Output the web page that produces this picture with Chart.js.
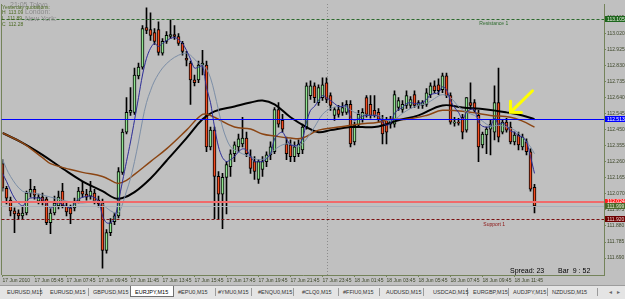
<!DOCTYPE html>
<html>
<head>
<meta charset="utf-8">
<script src="https://cdn.jsdelivr.net/npm/chart.js@4.4.1/dist/chart.umd.min.js"></script>
<style>
html, body { margin: 0; padding: 0; width: 625px; height: 299px; overflow: hidden; background: #c0c0c0; }
#wrap { position: absolute; left: 0; top: 0; width: 625px; height: 285px; }
#tabs { position: absolute; left: 0; top: 285px; width: 625px; height: 14px; background: #e4e4e4;
  border-top: 1px solid #9c9c9c; box-sizing: border-box;
  font-family: 'Liberation Sans Narrow', 'Liberation Sans', Arial, sans-serif; font-size: 5.5px; color: #333; }
#tabs span { position: absolute; top: 3px; white-space: nowrap; }
#tabs .sep { width: 1px; height: 8px; top: 2px; background: #9a9a9a; }
#tabs .sel { top: 0px; height: 11px; background: #fff; border: 1px solid #707070; border-top: none; box-sizing: border-box; }
</style>
</head>
<body>
<div id="wrap"><canvas id="c" width="625" height="285"></canvas></div>
<div id="tabs"></div>
<script>
// EURJPY M15, bars 17 Jun 2010 .. 18 Jun
var opens = [112.249,112.103,112.033,111.969,111.957,111.940,111.957,112.074,112.097,112.027,
  112.051,112.039,111.899,111.957,111.998,112.086,111.998,111.987,111.987,112.027,
  112.086,112.068,112.057,112.074,112.033,112.016,111.736,111.841,111.905,111.940,
  112.197,112.435,112.552,112.552,112.768,112.820,113.053,113.041,113.024,113.041,
  112.902,112.972,113.001,113.012,113.001,112.960,112.872,112.843,112.744,112.744,
  112.832,112.832,112.348,112.447,112.173,112.068,112.167,112.231,112.307,112.348,
  112.365,112.400,112.290,112.261,112.156,112.214,112.261,112.301,112.319,112.569,
  112.505,112.365,112.360,112.290,112.307,112.330,112.465,112.651,112.709,112.610,
  112.639,112.727,112.651,112.534,112.569,112.552,112.552,112.599,112.377,112.476,
  112.511,112.639,112.599,112.564,112.552,112.505,112.505,112.482,112.482,112.581,
  112.569,112.593,112.593,112.657,112.593,112.593,112.599,112.657,112.709,112.715,
  112.686,112.768,112.651,112.488,112.494,112.523,112.447,112.610,112.610,112.534,
  112.360,112.418,112.453,112.435,112.610,112.435,112.494,112.465,112.377,112.418,
  112.348,112.377,112.319,112.109];
var highs = [112.272,112.115,112.051,111.987,111.975,111.998,112.086,112.156,112.115,112.068,
  112.074,112.051,111.981,112.057,112.086,112.132,112.016,112.004,112.045,112.109,
  112.144,112.097,112.144,112.097,112.057,112.039,111.858,111.923,111.957,112.226,
  112.453,112.639,112.698,112.814,112.843,113.065,113.170,113.141,113.047,113.088,
  112.989,113.030,113.100,113.065,113.018,112.972,112.913,112.855,112.773,112.855,
  112.919,112.855,112.465,112.465,112.202,112.191,112.261,112.330,112.377,112.424,
  112.523,112.435,112.330,112.290,112.272,112.290,112.319,112.377,112.581,112.610,
  112.540,112.406,112.389,112.377,112.389,112.482,112.727,112.738,112.727,112.715,
  112.756,112.756,112.668,112.581,112.593,112.610,112.622,112.622,112.494,112.564,
  112.575,112.651,112.651,112.651,112.575,112.534,112.523,112.529,112.680,112.639,
  112.622,112.680,112.645,112.680,112.622,112.622,112.692,112.727,112.738,112.750,
  112.785,112.785,112.668,112.523,112.517,112.540,112.639,112.727,112.628,112.564,
  112.435,112.465,112.505,112.709,112.814,112.505,112.517,112.494,112.435,112.435,
  112.424,112.395,112.336,112.127];
var lows = [112.086,112.010,111.940,111.841,111.923,111.917,111.946,112.051,112.039,112.010,
  112.004,111.888,111.835,111.946,111.981,111.987,111.940,111.893,111.969,112.016,
  112.051,112.033,112.039,112.010,111.992,111.631,111.719,111.823,111.888,111.928,
  112.185,112.424,112.534,112.540,112.750,112.808,113.018,112.977,112.954,112.890,
  112.890,112.960,112.989,112.983,112.948,112.890,112.826,112.599,112.709,112.727,
  112.773,112.319,112.330,111.923,111.923,111.864,111.952,112.173,112.261,112.319,
  112.348,112.290,112.191,112.156,112.132,112.173,112.231,112.272,112.307,112.465,
  112.435,112.272,112.261,112.261,112.290,112.307,112.453,112.628,112.610,112.593,
  112.622,112.610,112.564,112.505,112.523,112.534,112.540,112.348,112.360,112.465,
  112.494,112.523,112.517,112.523,112.494,112.365,112.365,112.459,112.465,112.564,
  112.552,112.575,112.575,112.581,112.575,112.575,112.587,112.639,112.668,112.657,
  112.668,112.639,112.482,112.470,112.476,112.395,112.435,112.569,112.552,112.261,
  112.342,112.307,112.301,112.389,112.377,112.424,112.435,112.365,112.360,112.330,
  112.330,112.301,112.086,111.957];
var closes = [112.103,112.045,111.969,111.952,111.940,111.957,112.074,112.097,112.062,112.051,
  112.027,111.899,111.957,112.016,112.051,111.998,111.963,111.952,112.027,112.086,
  112.068,112.051,112.086,112.027,112.010,111.736,111.841,111.899,111.940,112.202,
  112.435,112.552,112.564,112.773,112.820,113.047,113.036,113.007,112.972,112.907,
  112.972,113.007,113.012,113.001,112.960,112.913,112.861,112.744,112.727,112.832,
  112.843,112.348,112.447,112.173,112.068,112.167,112.243,112.307,112.360,112.395,
  112.400,112.307,112.220,112.202,112.261,112.261,112.301,112.348,112.569,112.482,
  112.453,112.307,112.290,112.348,112.365,112.465,112.709,112.709,112.639,112.698,
  112.715,112.628,112.593,112.569,112.540,112.581,112.599,112.365,112.476,112.540,
  112.552,112.540,112.534,112.534,112.511,112.424,112.435,112.511,112.657,112.622,
  112.599,112.651,112.628,112.593,112.610,112.610,112.668,112.709,112.680,112.680,
  112.768,112.651,112.494,112.494,112.488,112.435,112.639,112.593,112.564,112.348,
  112.424,112.453,112.482,112.610,112.406,112.494,112.447,112.377,112.418,112.360,
  112.406,112.319,112.097,111.998];

// moving averages: [bar, price]
var maFast = [[0,112.191],[1,112.144],[3,112.045],[5,111.998],[6,112.027],[7,112.045],[9,112.045],[10,112.039],
  [12,111.987],[14,112.016],[17,111.987],[19,112.039],[22,112.057],[24,112.027],[25,111.940],[26,111.899],
  [27,111.899],[28,111.923],[29,112.027],[30,112.144],[31,112.261],[32,112.377],[33,112.505],[34,112.639],
  [35,112.773],[36,112.872],[37,112.931],[38,112.960],[39,112.942],[40,112.960],[41,112.977],[42,112.989],
  [43,112.995],[44,112.983],[45,112.960],[46,112.919],[47,112.867],[48,112.814],[49,112.820],[50,112.826],
  [51,112.698],[52,112.610],[53,112.465],[54,112.348],[55,112.284],[56,112.261],[57,112.272],[58,112.290],
  [59,112.319],[60,112.336],[61,112.330],[62,112.290],[63,112.261],[64,112.261],[65,112.261],[66,112.278],
  [67,112.307],[68,112.395],[69,112.424],[70,112.435],[71,112.395],[72,112.360],[73,112.354],[74,112.360],
  [75,112.395],[76,112.494],[77,112.564],[78,112.587],[79,112.622],[80,112.651],[81,112.639],[82,112.622],
  [83,112.604],[84,112.587],[85,112.587],[86,112.593],[87,112.523],[88,112.505],[89,112.517],[90,112.529],
  [91,112.534],[92,112.534],[93,112.534],[94,112.529],[95,112.494],[96,112.476],[97,112.488],[98,112.546],
  [99,112.569],[100,112.581],[101,112.604],[102,112.610],[103,112.604],[104,112.604],[105,112.610],[106,112.628],
  [107,112.657],[108,112.663],[109,112.668],[110,112.703],[111,112.686],[112,112.622],[113,112.581],[114,112.552],
  [115,112.511],[116,112.552],[117,112.569],[118,112.569],[119,112.494],[120,112.470],[121,112.465],[122,112.470],
  [123,112.517],[124,112.482],[125,112.488],[126,112.476],[127,112.441],[128,112.435],[129,112.412],[130,112.406],
  [131,112.377],[132,112.290],[133,112.191]];
var maMid = [[0,112.272],[2,112.173],[5,112.086],[8,112.074],[12,112.051],[16,112.027],[20,112.016],[24,112.027],
  [26,111.987],[28,111.957],[29,111.957],[30,112.010],[31,112.086],[32,112.161],[33,112.261],[34,112.377],
  [35,112.505],[36,112.610],[37,112.680],[38,112.738],[40,112.814],[42,112.861],[44,112.890],[46,112.902],
  [47,112.890],[48,112.867],[49,112.843],[50,112.832],[51,112.808],[52,112.756],[53,112.668],[54,112.564],
  [55,112.465],[56,112.395],[57,112.348],[58,112.330],[60,112.307],[62,112.290],[64,112.272],[66,112.284],
  [68,112.330],[70,112.360],[72,112.365],[74,112.348],[76,112.395],[78,112.465],[80,112.540],[82,112.575],
  [84,112.587],[86,112.581],[88,112.552],[90,112.540],[92,112.534],[94,112.534],[96,112.505],[98,112.511],
  [100,112.546],[102,112.575],[104,112.593],[106,112.604],[108,112.634],[110,112.657],[112,112.639],[114,112.587],
  [116,112.552],[118,112.534],[120,112.500],[122,112.470],[124,112.476],[126,112.465],[128,112.447],[130,112.406],
  [132,112.348],[133,112.307]];
var maSlowBrown = [[0,112.430],[5,112.371],[10,112.284],[12,112.249],[17,112.214],[20,112.197],[25,112.173],
  [28,112.138],[29,112.132],[31,112.150],[33,112.185],[37,112.261],[41,112.336],[46,112.447],[50,112.540],
  [52,112.534],[53,112.523],[58,112.465],[62,112.453],[65,112.424],[68,112.412],[72,112.400],[75,112.400],
  [79,112.447],[84,112.465],[89,112.482],[94,112.494],[97,112.511],[101,112.511],[106,112.534],[110,112.564],
  [117,112.552],[122,112.534],[127,112.523],[130,112.500],[133,112.465]];
var maSlowBlack = [[0,112.430],[5,112.372],[10,112.301],[15,112.220],[20,112.144],[25,112.086],[28,112.045],
  [30,112.045],[33,112.080],[37,112.161],[41,112.266],[46,112.400],[50,112.511],[53,112.558],[58,112.587],
  [62,112.610],[65,112.622],[68,112.599],[72,112.523],[76,112.465],[79,112.435],[82,112.447],[87,112.465],
  [93,112.465],[96,112.482],[99,112.505],[104,112.534],[110,112.593],[115,112.581],[121,112.569],[126,112.552],
  [130,112.534],[133,112.511]];

var tickLabels = ['17 Jun 2010','17 Jun 05:45','17 Jun 07:45','17 Jun 09:45','17 Jun 11:45','17 Jun 13:45',
  '17 Jun 15:45','17 Jun 17:45','17 Jun 19:45','17 Jun 21:45','17 Jun 23:45','18 Jun 01:45','18 Jun 03:45',
  '18 Jun 05:45','18 Jun 07:45','18 Jun 09:45','18 Jun 11:45'];
var priceTicks = [111.690,111.785,111.880,111.975,112.070,112.165,112.260,112.355,112.450,112.545,
  112.640,112.735,112.830,112.925,113.020,113.115];

// horizontal levels: resistance, blue line, ask, bid, support
var levelPrices = [113.105, 112.513, 112.024, 111.999, 111.920];
var levelTexts = ['113.105', '112.513', '112.024', '111.999', '111.920'];
var daySeparator = 81;
var arrowTip = [127, 112.552];
var arrowTail = [132.5, 112.680];

var axisColor = '#74835a';
var labelColor = '#3c4628';
var smallFont = "'Liberation Sans Narrow', 'Liberation Sans', Arial, sans-serif";

var levelStyle = [
  { color: '#2d6b2d', dash: [3, 2], width: 1, bg: '#1d661d', fg: '#e8f0e0' },
  { color: '#0000ff', dash: [], width: 1, bg: '#0000ff', fg: '#ffffff' },
  { color: '#f06a6a', dash: [], width: 2, bg: '#ff1f1f', fg: '#ffffff' },
  { color: '#a9b2bb', dash: [], width: 1, bg: '#4b6a2c', fg: '#e0e8d0' },
  { color: '#7a1010', dash: [3, 2], width: 1, bg: '#6e0000', fg: '#f0d8d8' }
];

var overlay = {
  id: 'overlay',
  beforeDraw: function (chart) {
    var ctx = chart.ctx;
    ctx.save();
    ctx.fillStyle = '#c0c0c0';
    ctx.fillRect(0, 0, chart.width, chart.height);
    ctx.restore();
  },
  beforeDatasetsDraw: function (chart) {
    var ctx = chart.ctx, a = chart.chartArea, x = chart.scales.x;
    ctx.save();
    ctx.strokeStyle = '#8c8c8c';
    ctx.lineWidth = 1;
    ctx.setLineDash([1, 2]);
    var sx = Math.round(x.getPixelForValue(daySeparator)) + 0.5;
    ctx.beginPath(); ctx.moveTo(sx, a.top); ctx.lineTo(sx, a.bottom); ctx.stroke();
    ctx.restore();
  },
  afterDatasetsDraw: function (chart) {
    var ctx = chart.ctx, a = chart.chartArea, x = chart.scales.x, y = chart.scales.y;
    ctx.save();
    // left frame
    ctx.strokeStyle = axisColor; ctx.lineWidth = 1;
    ctx.beginPath(); ctx.moveTo(1.5, a.top); ctx.lineTo(1.5, a.bottom); ctx.stroke();

    // level lines
    levelPrices.forEach(function (p, k) {
      var st = levelStyle[k];
      var py = Math.round(y.getPixelForValue(p)) + (st.width === 1 ? 0.5 : 0);
      ctx.strokeStyle = st.color; ctx.lineWidth = st.width; ctx.setLineDash(st.dash);
      ctx.beginPath(); ctx.moveTo(a.left - 1, py); ctx.lineTo(a.right, py); ctx.stroke();
    });
    ctx.setLineDash([]);

    // level captions
    ctx.font = '5px ' + smallFont;
    ctx.textBaseline = 'alphabetic';
    ctx.fillStyle = '#2d6b2d';
    ctx.fillText('Resistance 1', x.getPixelForValue(119.2), y.getPixelForValue(levelPrices[0]) + 6);
    ctx.fillStyle = '#8b1010';
    ctx.fillText('Support 1', x.getPixelForValue(120.2), y.getPixelForValue(levelPrices[4]) + 6.5);

    // yellow arrow
    var tx = x.getPixelForValue(arrowTip[0]), ty = y.getPixelForValue(arrowTip[1]);
    var ex = x.getPixelForValue(arrowTail[0]), ey = y.getPixelForValue(arrowTail[1]);
    var ang = Math.atan2(ey - ty, ex - tx);
    ctx.strokeStyle = '#ffff00'; ctx.lineWidth = 3; ctx.lineCap = 'round';
    ctx.beginPath();
    ctx.moveTo(ex, ey); ctx.lineTo(tx, ty);
    ctx.moveTo(tx + 11 * Math.cos(ang - Math.PI / 4), ty + 11 * Math.sin(ang - Math.PI / 4));
    ctx.lineTo(tx, ty);
    ctx.lineTo(tx + 11 * Math.cos(ang + Math.PI / 4), ty + 11 * Math.sin(ang + Math.PI / 4));
    ctx.stroke();

    // price boxes on the axis
    ctx.font = '5px ' + smallFont;
    ctx.textBaseline = 'middle';
    levelPrices.forEach(function (p, k) {
      var st = levelStyle[k];
      var py = y.getPixelForValue(p);
      ctx.fillStyle = st.bg;
      ctx.fillRect(a.right + 1, Math.round(py) - 3, 21, 6);
      ctx.fillStyle = st.fg;
      ctx.fillText(levelTexts[k], a.right + 3, py + 0.3);
    });

    // corner texts
    ctx.textBaseline = 'alphabetic';
    ctx.font = '7px ' + smallFont;
    ctx.fillStyle = '#8a8a8a';
    ctx.fillText('21:05 Tokyo', 10, 7);
    ctx.fillText('London:', 25, 14);
    ctx.fillText('New York:', 25, 21);
    ctx.font = '5px ' + smallFont;
    ctx.fillStyle = '#4c6a22';
    ctx.fillText('Yesterday quotations:', 2, 9);
    ctx.fillText('H  113.09', 2, 14);
    ctx.fillText('L  111.89', 2, 20);
    ctx.fillText('C  112.28', 2, 26);

    ctx.font = '7px ' + smallFont;
    ctx.fillStyle = '#000';
    ctx.fillText('Spread: 23', 510, a.bottom - 2);
    ctx.fillText('Bar  9 : 52', 558, a.bottom - 2);
    ctx.restore();
  }
};

var idx = opens.map(function (_, i) { return i; });
var wickData = idx.map(function (i) { return { x: i, y: [lows[i], highs[i]] }; });
var bodyData = idx.map(function (i) { return { x: i, y: [opens[i], closes[i]] }; });
var bodyColors = idx.map(function (i) { return closes[i] >= opens[i] ? '#8fe28f' : '#f24a1e'; });
function pts(arr) { return arr.map(function (p) { return { x: p[0], y: p[1] }; }); }

var ctx = document.getElementById('c').getContext('2d');
var chart = new Chart(ctx, {
  type: 'bar',
  data: {
    datasets: [
      { type: 'line', data: pts(maFast), borderColor: '#2c2c96', borderWidth: 1, pointRadius: 0, tension: 0.3, order: 1 },
      { type: 'line', data: pts(maMid), borderColor: '#7c8ea6', borderWidth: 1, pointRadius: 0, tension: 0.35, order: 2 },
      { type: 'line', data: pts(maSlowBrown), borderColor: '#8b4513', borderWidth: 1.5, pointRadius: 0, tension: 0.4, order: 3 },
      { type: 'line', data: pts(maSlowBlack), borderColor: '#000000', borderWidth: 2, pointRadius: 0, tension: 0.4, order: 4 },
      { data: bodyData, backgroundColor: bodyColors, borderColor: '#000', borderWidth: 1, borderSkipped: false,
        barThickness: 3, minBarLength: 1, grouped: false, order: 5 },
      { data: wickData, backgroundColor: '#000', barThickness: 1, grouped: false, order: 6 }
    ]
  },
  options: {
    responsive: false,
    animation: false,
    layout: { padding: { left: 2.5, top: 0, right: 0, bottom: 0 } },
    plugins: { legend: { display: false }, tooltip: { enabled: false } },
    scales: {
      x: {
        type: 'linear', min: 0, max: 150.375, offset: false,
        grid: { drawOnChartArea: false, drawTicks: true, tickLength: 2, color: axisColor, offset: false },
        border: { display: true, color: axisColor },
        afterBuildTicks: function (s) { s.ticks = tickLabels.map(function (t, k) { return { value: k * 8 }; }); },
        afterFit: function (s) { s.height = 10; },
        ticks: { autoSkip: false, maxRotation: 0, align: 'start', padding: 1, color: labelColor,
          font: { family: smallFont, size: 5 },
          callback: function (v, k) { return tickLabels[k]; } }
      },
      y: {
        position: 'right', min: 111.590, max: 113.193,
        grid: { drawOnChartArea: false, drawTicks: true, tickLength: 2, color: axisColor },
        border: { display: true, color: axisColor },
        afterBuildTicks: function (s) { s.ticks = priceTicks.map(function (v) { return { value: v }; }); },
        afterFit: function (s) { s.width = 21; },
        ticks: { autoSkip: false, padding: 1, color: labelColor,
          font: { family: smallFont, size: 5 },
          callback: function (v) { return v.toFixed(3); } }
      }
    }
  },
  plugins: [overlay]
});

// terminal tab strip
var tabNames = ['EURUSD,M15','EURUSD,M15','GBPUSD,M15','EURJPY,M15','#EPU0,M15','#YMU0,M15','#ENQU0,M15',
  '#CLQ0,M15','#FFIU0,M15','AUDUSD,M15','USDCAD,M15','EURGBP,M15','AUDJPY,M15','NZDUSD,M15'];
var tabX = [7, 50, 93, 135, 178, 218, 258, 302, 343, 386, 433, 473, 513, 552];
var sepX = [40, 88, 215, 251, 293, 338, 379, 423, 467, 508, 547, 597];
var tabs = document.getElementById('tabs');
var html = '<span class="sel" style="left:130px;width:44px"></span>';
sepX.forEach(function (s) { html += '<span class="sep" style="left:' + s + 'px"></span>'; });
tabNames.forEach(function (n, k) {
  html += '<span style="left:' + tabX[k] + 'px' + (k === 3 ? ';color:#000' : '') + '">' + n + '</span>';
});
html += '<span style="left:609px;color:#666">&#9666;</span><span style="left:617px;color:#666">&#9656;</span>';
tabs.innerHTML = html;
</script>
</body>
</html>
